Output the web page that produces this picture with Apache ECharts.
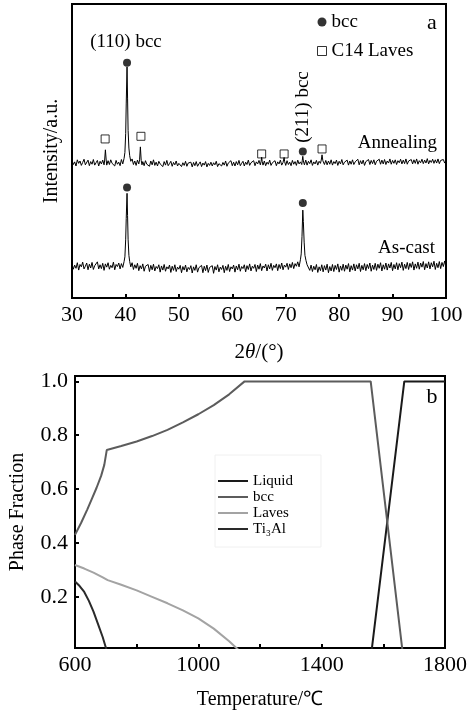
<!DOCTYPE html>
<html>
<head>
<meta charset="utf-8">
<script src="https://cdn.jsdelivr.net/npm/echarts@6.0.0/dist/echarts.min.js"></script>
<style>
    html, body {margin: 0; padding: 0; background: #fff;}
    #main {width: 470px; height: 715px;}
</style>
</head>
<body>
<div id="main"></div>
<script>
// (a) XRD patterns, intensity in arbitrary units
var annealing = [
    [30, 46.8], [30.25, 45.4], [30.5, 46.3], [30.75, 44.9], [31, 47.0], [31.25, 45.8], [31.5, 46.6], [31.75, 45.1],
    [32, 46.1], [32.25, 47.2], [32.5, 45.3], [32.75, 45.7], [33, 46.9], [33.25, 45.0], [33.5, 46.4], [33.75, 45.5],
    [34, 47.1], [34.25, 45.2], [34.5, 46.0], [34.75, 46.8], [35, 44.9], [35.25, 46.5], [35.5, 45.6], [35.75, 46.9],
    [36, 45.3], [36.1, 46.6], [36.25, 50.4], [36.4, 46.9], [36.5, 45.2], [36.75, 46.7], [37, 45.4], [37.25, 47.0],
    [37.5, 45.8], [37.75, 46.3], [38, 44.9], [38.25, 46.8], [38.5, 45.5], [38.75, 46.2], [39, 45.0], [39.25, 47.1],
    [39.5, 45.6], [39.75, 47.5], [39.9, 49.5], [40.05, 56], [40.15, 66], [40.3, 78.6], [40.4, 68], [40.5, 57],
    [40.65, 51], [40.8, 48.4], [41, 46.5], [41.25, 47.3], [41.5, 45.4], [41.75, 46.6], [42, 45.1], [42.25, 46.9],
    [42.5, 45.6], [42.65, 47.0], [42.8, 51.4], [42.95, 46.8], [43.1, 45.3], [43.25, 46.4], [43.5, 45.0], [43.75, 46.7],
    [44, 45.5], [44.25, 46.1], [44.5, 44.8], [44.75, 46.6], [45, 45.3], [45.25, 47.0], [45.5, 45.1], [45.75, 46.2],
    [46, 44.9], [46.25, 46.5], [46.5, 45.6], [46.75, 46.0], [47, 44.7], [47.25, 46.4], [47.5, 45.2], [47.75, 46.8],
    [48, 45.0], [48.25, 45.7], [48.5, 46.5], [48.75, 44.8], [49, 46.1], [49.25, 45.3], [49.5, 46.6], [49.75, 44.9],
    [50, 45.8], [50.25, 46.3], [50.5, 44.7], [50.75, 46.0], [51, 45.1], [51.25, 46.5], [51.5, 44.8], [51.75, 45.9],
    [52, 45.4], [52.25, 46.2], [52.5, 44.6], [52.75, 46.1], [53, 45.0], [53.25, 46.4], [53.5, 44.8], [53.75, 45.6],
    [54, 46.3], [54.25, 44.7], [54.5, 45.9], [54.75, 45.2], [55, 46.4], [55.25, 44.6], [55.5, 45.8], [55.75, 45.1],
    [56, 46.2], [56.25, 44.9], [56.5, 46.0], [56.75, 45.3], [57, 46.5], [57.25, 44.7], [57.5, 45.7], [57.75, 46.3],
    [58, 44.9], [58.25, 46.1], [58.5, 45.2], [58.75, 46.6], [59, 44.8], [59.25, 45.9], [59.5, 45.4], [59.75, 46.7],
    [60, 45.0], [60.25, 46.2], [60.5, 44.9], [60.75, 46.4], [61, 45.3], [61.25, 46.8], [61.5, 45.0], [61.75, 45.8],
    [62, 46.5], [62.25, 44.9], [62.5, 46.2], [62.75, 45.4], [63, 46.9], [63.25, 45.1], [63.5, 46.0], [63.75, 45.5],
    [64, 46.7], [64.25, 45.0], [64.5, 46.3], [64.75, 45.6], [65, 46.8], [65.25, 45.3], [65.4, 46.5], [65.5, 47.9],
    [65.6, 46.4], [65.75, 45.2], [66, 46.6], [66.25, 45.0], [66.5, 46.2], [66.75, 45.5], [67, 46.9], [67.25, 45.1],
    [67.5, 46.0], [67.75, 45.4], [68, 46.7], [68.25, 45.0], [68.5, 46.3], [68.75, 45.6], [69, 46.9], [69.25, 45.2],
    [69.5, 46.1], [69.6, 46.6], [69.7, 47.8], [69.8, 46.4], [70, 45.1], [70.25, 46.7], [70.5, 45.4], [70.75, 46.2],
    [71, 45.0], [71.25, 46.8], [71.5, 45.5], [71.75, 46.4], [72, 45.1], [72.25, 46.9], [72.5, 45.6], [72.75, 46.3],
    [73, 45.4], [73.1, 46.8], [73.2, 48.2], [73.3, 46.6], [73.5, 45.3], [73.75, 46.9], [74, 45.2], [74.25, 46.5],
    [74.5, 45.7], [74.75, 47.0], [75, 45.1], [75.25, 46.3], [75.5, 45.6], [75.75, 46.8], [76, 45.2], [76.25, 46.5],
    [76.5, 45.8], [76.65, 46.9], [76.8, 48.7], [76.95, 46.7], [77.25, 45.4], [77.5, 46.8], [77.75, 45.3], [78, 46.6],
    [78.25, 45.5], [78.5, 47.0], [78.75, 45.2], [79, 46.4], [79.25, 45.7], [79.5, 46.9], [79.75, 45.1], [80, 46.5],
    [80.25, 45.6], [80.5, 47.1], [80.75, 45.3], [81, 46.2], [81.25, 45.8], [81.5, 46.9], [81.75, 45.2], [82, 46.6],
    [82.25, 45.5], [82.5, 47.0], [82.75, 45.4], [83, 46.3], [83.25, 45.9], [83.5, 47.2], [83.75, 45.3], [84, 46.7],
    [84.25, 45.6], [84.5, 46.9], [84.75, 45.1], [85, 46.4], [85.25, 45.8], [85.5, 47.1], [85.75, 45.4], [86, 46.8],
    [86.25, 45.7], [86.5, 47.0], [86.75, 45.3], [87, 46.5], [87.25, 45.9], [87.5, 47.2], [87.75, 45.5], [88, 46.9],
    [88.25, 45.6], [88.5, 47.1], [88.75, 45.4], [89, 46.6], [89.25, 45.9], [89.5, 47.3], [89.75, 45.5], [90, 46.8],
    [90.25, 45.8], [90.5, 47.0], [90.75, 45.4], [91, 46.7], [91.25, 46.0], [91.5, 47.2], [91.75, 45.6], [92, 46.9],
    [92.25, 45.7], [92.5, 47.3], [92.75, 45.5], [93, 46.6], [93.25, 46.1], [93.5, 47.1], [93.75, 45.6], [94, 47.0],
    [94.25, 45.8], [94.5, 47.3], [94.75, 45.5], [95, 46.7], [95.25, 46.0], [95.5, 47.2], [95.75, 45.7], [96, 46.9],
    [96.25, 45.9], [96.5, 47.4], [96.75, 45.6], [97, 46.8], [97.25, 46.1], [97.5, 47.2], [97.75, 45.8], [98, 47.0],
    [98.25, 45.9], [98.5, 47.3], [98.75, 45.7], [99, 46.8], [99.25, 46.2], [99.5, 47.1], [99.75, 45.9], [100, 46.6]
];

var asCast = [
    [30, 11.6], [30.25, 9.8], [30.5, 11.2], [30.75, 10.1], [31, 12.0], [31.25, 9.5], [31.5, 11.4], [31.75, 10.6],
    [32, 12.2], [32.25, 9.9], [32.5, 10.8], [32.75, 11.9], [33, 9.6], [33.25, 11.5], [33.5, 10.2], [33.75, 12.1],
    [34, 9.7], [34.25, 11.0], [34.5, 10.4], [34.75, 12.3], [35, 9.9], [35.25, 11.3], [35.5, 10.0], [35.75, 11.8],
    [36, 9.4], [36.25, 11.6], [36.5, 10.5], [36.75, 12.0], [37, 9.8], [37.25, 11.1], [37.5, 10.3], [37.75, 12.2],
    [38, 9.6], [38.25, 11.4], [38.5, 10.7], [38.75, 11.9], [39, 9.9], [39.25, 11.7], [39.5, 10.4], [39.75, 12.4],
    [39.9, 14], [40.05, 20], [40.15, 27], [40.3, 35.6], [40.4, 28], [40.5, 20], [40.65, 14.5], [40.8, 12.4],
    [41, 10.6], [41.25, 12.0], [41.5, 9.7], [41.75, 11.3], [42, 10.1], [42.25, 11.8], [42.5, 9.3], [42.75, 11.0],
    [43, 9.9], [43.25, 11.6], [43.5, 9.1], [43.75, 10.8], [44, 10.3], [44.25, 11.4], [44.5, 9.0], [44.75, 11.1],
    [45, 9.6], [45.25, 11.5], [45.5, 9.2], [45.75, 10.7], [46, 10.0], [46.25, 11.3], [46.5, 8.8], [46.75, 10.9],
    [47, 9.5], [47.25, 11.4], [47.5, 9.1], [47.75, 10.6], [48, 9.9], [48.25, 11.2], [48.5, 8.7], [48.75, 10.8],
    [49, 9.4], [49.25, 11.3], [49.5, 9.0], [49.75, 10.5], [50, 9.8], [50.25, 11.1], [50.5, 8.6], [50.75, 10.7],
    [51, 9.5], [51.25, 11.2], [51.5, 8.9], [51.75, 10.4], [52, 9.7], [52.25, 11.0], [52.5, 8.5], [52.75, 10.6],
    [53, 9.4], [53.25, 11.3], [53.5, 8.8], [53.75, 10.3], [54, 9.8], [54.25, 11.1], [54.5, 8.6], [54.75, 10.8],
    [55, 9.3], [55.25, 11.2], [55.5, 8.7], [55.75, 10.4], [56, 9.9], [56.25, 11.0], [56.5, 8.4], [56.75, 10.7],
    [57, 9.5], [57.25, 11.3], [57.5, 8.9], [57.75, 10.5], [58, 9.7], [58.25, 11.1], [58.5, 8.6], [58.75, 10.8],
    [59, 9.4], [59.25, 11.4], [59.5, 9.0], [59.75, 10.6], [60, 9.9], [60.25, 11.2], [60.5, 8.8], [60.75, 10.9],
    [61, 9.6], [61.25, 11.5], [61.5, 9.1], [61.75, 10.7], [62, 10.0], [62.25, 11.3], [62.5, 8.9], [62.75, 11.0],
    [63, 9.7], [63.25, 11.6], [63.5, 9.2], [63.75, 10.8], [64, 10.1], [64.25, 11.4], [64.5, 9.0], [64.75, 11.2],
    [65, 9.8], [65.25, 11.7], [65.5, 9.3], [65.75, 10.9], [66, 10.2], [66.25, 11.5], [66.5, 9.2], [66.75, 11.3],
    [67, 9.9], [67.25, 11.8], [67.5, 9.4], [67.75, 11.1], [68, 10.3], [68.25, 11.6], [68.5, 9.3], [68.75, 11.4],
    [69, 10.0], [69.25, 11.9], [69.5, 9.6], [69.75, 11.2], [70, 10.5], [70.25, 11.8], [70.5, 9.7], [70.75, 11.6],
    [71, 10.3], [71.25, 12.1], [71.5, 10.0], [71.75, 11.7], [72, 10.8], [72.25, 12.3], [72.5, 10.6], [72.75, 13.0],
    [72.9, 15], [73.05, 21], [73.2, 29.9], [73.3, 26], [73.45, 19], [73.6, 14.5], [73.8, 12.7], [74, 11.3],
    [74.25, 11.9], [74.5, 9.4], [74.75, 11.2], [75, 9.0], [75.25, 10.8], [75.5, 9.6], [75.75, 11.4], [76, 8.7],
    [76.25, 10.6], [76.5, 9.3], [76.75, 11.3], [77, 8.9], [77.25, 11.0], [77.5, 9.5], [77.75, 11.5], [78, 8.6],
    [78.25, 10.7], [78.5, 9.2], [78.75, 11.4], [79, 9.0], [79.25, 11.1], [79.5, 9.7], [79.75, 11.6], [80, 8.8],
    [80.25, 10.9], [80.5, 9.4], [80.75, 11.5], [81, 9.1], [81.25, 11.2], [81.5, 9.8], [81.75, 11.7], [82, 8.9],
    [82.25, 11.0], [82.5, 9.5], [82.75, 11.6], [83, 9.2], [83.25, 11.3], [83.5, 9.9], [83.75, 11.8], [84, 9.0],
    [84.25, 11.1], [84.5, 9.6], [84.75, 11.7], [85, 9.3], [85.25, 11.4], [85.5, 10.0], [85.75, 11.9], [86, 9.1],
    [86.25, 11.2], [86.5, 9.7], [86.75, 11.8], [87, 9.4], [87.25, 11.5], [87.5, 10.1], [87.75, 12.0], [88, 9.2],
    [88.25, 11.3], [88.5, 9.8], [88.75, 11.9], [89, 9.5], [89.25, 11.6], [89.5, 10.2], [89.75, 12.1], [90, 9.3],
    [90.25, 11.4], [90.5, 9.9], [90.75, 12.0], [91, 9.6], [91.25, 11.7], [91.5, 10.3], [91.75, 12.2], [92, 9.4],
    [92.25, 11.5], [92.5, 10.0], [92.75, 12.1], [93, 9.7], [93.25, 11.8], [93.5, 10.4], [93.75, 12.3], [94, 9.5],
    [94.25, 11.6], [94.5, 10.1], [94.75, 12.2], [95, 9.8], [95.25, 11.9], [95.5, 10.5], [95.75, 12.4], [96, 9.6],
    [96.25, 11.7], [96.5, 10.2], [96.75, 12.3], [97, 9.9], [97.25, 12.0], [97.5, 10.6], [97.75, 12.5], [98, 9.7],
    [98.25, 11.8], [98.5, 10.3], [98.75, 12.4], [99, 10.0], [99.25, 12.1], [99.5, 10.7], [99.75, 12.6], [100, 10.4]
];

// peak markers
var bccMarks = [[40.3, 80.0], [73.2, 49.8], [40.3, 37.6], [73.2, 32.3]];
var lavesMarks = [[36.2, 54.1], [42.9, 55.0], [65.5, 49.0], [69.7, 49.0], [76.8, 50.7]];

var xrdTicks = [30, 100, 10];

// (b) phase fraction vs temperature
var liquid = [[1562, 0], [1668, 1.0], [1800, 1.0]];
var bcc = [[600, 0.43], [620, 0.475], [640, 0.525], [655, 0.565], [670, 0.605], [685, 0.65], [695, 0.69],
    [703, 0.745], [750, 0.76], [800, 0.777], [850, 0.797], [900, 0.82], [950, 0.848], [1000, 0.878],
    [1050, 0.912], [1100, 0.952], [1150, 1.0], [1559, 1.0], [1662, 0]];
var laves = [[600, 0.318], [630, 0.305], [660, 0.29], [690, 0.272], [706, 0.262], [750, 0.245],
    [800, 0.224], [850, 0.2], [900, 0.176], [950, 0.15], [1000, 0.12], [1050, 0.082], [1100, 0.035], [1133, 0]];
var ti3al = [[600, 0.257], [615, 0.24], [630, 0.218], [645, 0.185], [660, 0.145], [675, 0.098], [690, 0.05], [703, 0]];

var fractionTicks = [0.2, 0.4, 0.6, 0.8, 1.0];
var tempLabels = [600, 1000, 1400, 1800];

var chartDom = document.getElementById('main');
var myChart = echarts.init(chartDom);
var option;
var serif = 'Liberation Serif';

option = {
    animation: false,
    backgroundColor: '#fff',
    textStyle: {fontFamily: serif, color: '#000'},
    grid: [{
        left: 72, right: 24, top: 4, height: 294,
        show: true, borderColor: '#000', borderWidth: 2
    }, {
        left: 72, right: 24, top: 376, height: 272,
        show: true, borderColor: '#000', borderWidth: 2
    }],
    legend: [{
        orient: 'vertical',
        left: 317, top: 12,
        padding: 0,
        itemWidth: 9, itemHeight: 9, itemGap: 9,
        selectedMode: false,
        textStyle: {fontFamily: serif, fontSize: 19, color: '#000', lineHeight: 20},
        data: [
            {name: 'bcc', icon: 'circle', itemStyle: {color: '#000'}},
            {name: 'C14 Laves', icon: 'rect', itemStyle: {color: '#fff', borderColor: '#000', borderWidth: 1}}
        ]
    }, {
        orient: 'vertical',
        left: 215, top: 455,
        padding: [18, 28, 10, 3],
        borderColor: '#f0f0f0', borderWidth: 1,
        itemWidth: 30, itemHeight: 2, itemGap: 0,
        selectedMode: false,
        textStyle: {fontFamily: serif, fontSize: 15, color: '#000', lineHeight: 16},
        data: [
            {name: 'Liquid', icon: 'rect'},
            {name: 'bcc ', icon: 'rect'},
            {name: 'Laves', icon: 'rect'},
            {name: 'Ti₃Al', icon: 'rect'}
        ]
    }],
    xAxis: [{
        type: 'value',
        gridIndex: 0,
        min: xrdTicks[0], max: xrdTicks[1], interval: xrdTicks[2],
        name: '2{i|θ}/(°)',
        nameLocation: 'middle',
        nameGap: 44,
        nameTextStyle: {
            fontFamily: serif, fontSize: 21, color: '#000',
            rich: {i: {fontFamily: serif, fontSize: 21, fontStyle: 'italic', color: '#000'}}
        },
        axisLine: {lineStyle: {color: '#000', width: 2}},
        axisTick: {inside: true, length: 4, lineStyle: {color: '#000', width: 2}},
        axisLabel: {fontFamily: serif, fontSize: 22, color: '#000', margin: 6},
        splitLine: {show: false}
    }, {
        type: 'value',
        gridIndex: 1,
        min: 600, max: 1800, interval: 200,
        name: 'Temperature/℃',
        nameLocation: 'middle',
        nameGap: 42,
        nameTextStyle: {fontFamily: serif, fontSize: 20, color: '#000'},
        axisLine: {lineStyle: {color: '#000', width: 2}},
        axisTick: {inside: true, length: 4, lineStyle: {color: '#000', width: 2}},
        axisLabel: {
            fontFamily: serif, fontSize: 22, color: '#000', margin: 6,
            formatter: function (v) {
                return tempLabels.indexOf(v) >= 0 ? String(v) : '';
            }
        },
        splitLine: {show: false}
    }],
    yAxis: [{
        type: 'value',
        gridIndex: 0,
        min: 0, max: 100,
        name: 'Intensity/a.u.',
        nameLocation: 'middle',
        nameGap: 10,
        nameTextStyle: {fontFamily: serif, fontSize: 20, color: '#000'},
        axisLine: {show: false},
        axisTick: {show: false},
        axisLabel: {show: false},
        splitLine: {show: false}
    }, {
        type: 'value',
        gridIndex: 1,
        min: 0.01, max: 1.02,
        name: 'Phase Fraction',
        nameLocation: 'middle',
        nameGap: 47,
        nameTextStyle: {fontFamily: serif, fontSize: 20, color: '#000'},
        axisLine: {lineStyle: {color: '#000', width: 2}},
        axisTick: {inside: true, length: 4, customValues: fractionTicks, lineStyle: {color: '#000', width: 2}},
        axisLabel: {
            fontFamily: serif, fontSize: 22, color: '#000', margin: 7,
            customValues: fractionTicks,
            formatter: function (v) {
                return v.toFixed(1);
            }
        },
        splitLine: {show: false}
    }],
    graphic: [
        {type: 'text', x: 126, y: 42, style: {text: '(110) bcc', font: '19px "Liberation Serif"', fill: '#000', align: 'center', verticalAlign: 'middle'}},
        {type: 'text', x: 303, y: 107, rotation: Math.PI / 2, style: {text: '(211) bcc', font: '19px "Liberation Serif"', fill: '#000', align: 'center', verticalAlign: 'middle'}},
        {type: 'text', x: 437, y: 143, style: {text: 'Annealing', font: '19px "Liberation Serif"', fill: '#000', align: 'right', verticalAlign: 'middle'}},
        {type: 'text', x: 435, y: 248, style: {text: 'As-cast', font: '19px "Liberation Serif"', fill: '#000', align: 'right', verticalAlign: 'middle'}},
        {type: 'text', x: 432, y: 23, style: {text: 'a', font: '22px "Liberation Serif"', fill: '#000', align: 'center', verticalAlign: 'middle'}},
        {type: 'text', x: 432, y: 397, style: {text: 'b', font: '22px "Liberation Serif"', fill: '#000', align: 'center', verticalAlign: 'middle'}}
    ],
    series: [{
        name: 'Annealing',
        type: 'line',
        xAxisIndex: 0, yAxisIndex: 0,
        symbol: 'none',
        lineStyle: {color: '#000', width: 1},
        data: annealing
    }, {
        name: 'As-cast',
        type: 'line',
        xAxisIndex: 0, yAxisIndex: 0,
        symbol: 'none',
        lineStyle: {color: '#000', width: 1},
        data: asCast
    }, {
        name: 'bcc',
        type: 'scatter',
        xAxisIndex: 0, yAxisIndex: 0,
        symbol: 'circle',
        symbolSize: 8,
        itemStyle: {color: '#000'},
        data: bccMarks
    }, {
        name: 'C14 Laves',
        type: 'scatter',
        xAxisIndex: 0, yAxisIndex: 0,
        symbol: 'rect',
        symbolSize: 8,
        itemStyle: {color: '#fff', borderColor: '#000', borderWidth: 1},
        data: lavesMarks
    }, {
        name: 'Liquid',
        type: 'line',
        xAxisIndex: 1, yAxisIndex: 1,
        symbol: 'none',
        lineStyle: {color: '#1a1a1a', width: 2},
        itemStyle: {color: '#1a1a1a'},
        data: liquid
    }, {
        name: 'bcc ',
        type: 'line',
        xAxisIndex: 1, yAxisIndex: 1,
        symbol: 'none',
        lineStyle: {color: '#5c5c5c', width: 2},
        itemStyle: {color: '#5c5c5c'},
        data: bcc
    }, {
        name: 'Laves',
        type: 'line',
        xAxisIndex: 1, yAxisIndex: 1,
        symbol: 'none',
        lineStyle: {color: '#a3a3a3', width: 2},
        itemStyle: {color: '#a3a3a3'},
        data: laves
    }, {
        name: 'Ti₃Al',
        type: 'line',
        xAxisIndex: 1, yAxisIndex: 1,
        symbol: 'none',
        lineStyle: {color: '#2a2a2a', width: 2},
        itemStyle: {color: '#2a2a2a'},
        data: ti3al
    }]
};

myChart.setOption(option);
</script>
</body>
</html>
